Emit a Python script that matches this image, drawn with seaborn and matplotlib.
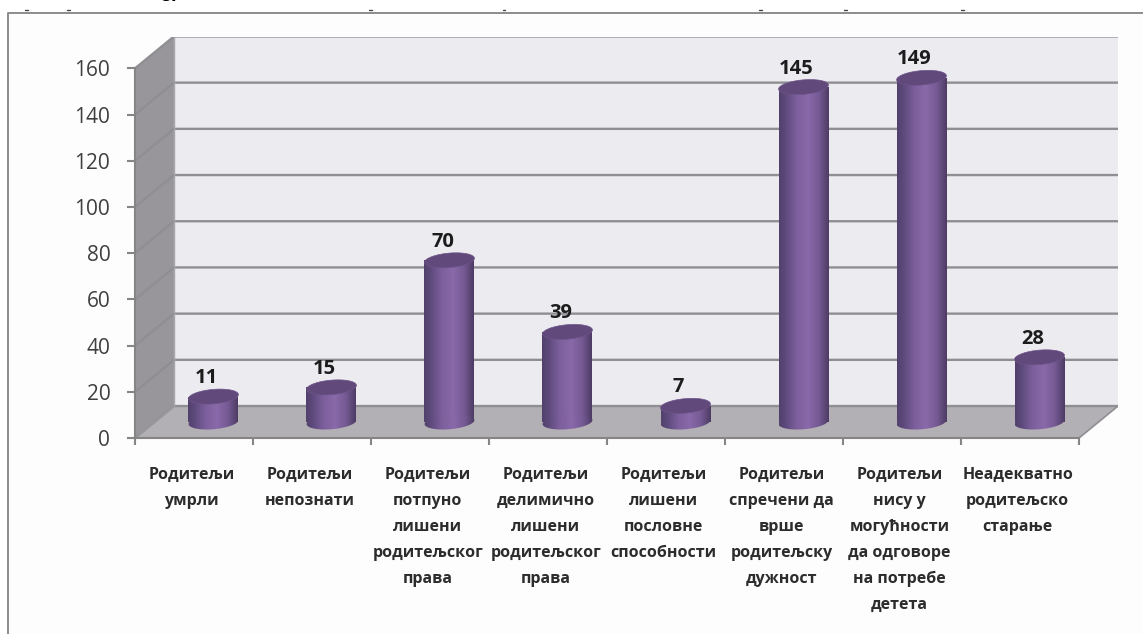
import numpy as np
import pandas as pd
import seaborn as sns
import matplotlib
matplotlib.use("Agg")
import matplotlib.pyplot as plt
from matplotlib.colors import LinearSegmentedColormap
from matplotlib.lines import Line2D
from matplotlib.patches import Polygon, Rectangle

categories = [
    "Родитељи\nумрли",
    "Родитељи\nнепознати",
    "Родитељи\nпотпуно\nлишени\nродитељског\nправа",
    "Родитељи\nделимично\nлишени\nродитељског\nправа",
    "Родитељи\nлишени\nпословне\nспособности",
    "Родитељи\nспречени да\nврше\nродитељску\nдужност",
    "Родитељи\nнису у\nмогућности\nда одговоре\nна потребе\nдетета",
    "Неадекватно\nродитељско\nстарање",
]
values = [11, 15, 70, 39, 7, 145, 149, 28]
y_ticks = [0, 20, 40, 60, 80, 100, 120, 140, 160]
speck_px = [26, 68, 370, 504, 760, 845, 962]

W, H = 1143, 634
L, R, B, T = 135, 1118, 438, 37
X0, X1 = -0.665, 7.665
Y0, Y1 = 0, 173.6
DX, DY = 0.33, 13.84
BASE = DY / 2
px_x = (R - L) / (X1 - X0)
px_y = (B - T) / (Y1 - Y0)

sns.set_theme(style="white", rc={"font.family": ["Open Sans", "DejaVu Sans"]})
fig = plt.figure(figsize=(W / 100, H / 100), dpi=100, facecolor="white")
fig.add_artist(Rectangle((8 / W, 0), (W - 8) / W, 1 - 13 / H, transform=fig.transFigure,
                         facecolor="#fdfdfd", edgecolor="none", zorder=-2))
ax = fig.add_axes([L / W, 1 - B / H, (R - L) / W, (B - T) / H])
ax.patch.set_alpha(0)

df = pd.DataFrame({"category": categories, "value": values})
sns.barplot(data=df, x="category", y="value", color="#7a5c98", width=50 / px_x, bottom=BASE,
            saturation=1, errorbar=None, ax=ax, zorder=5)
bars = list(ax.patches)

xf0, xf1 = X0, X0 + 8
top = y_ticks[-1]
ax.add_patch(Polygon([(xf0, 0), (xf0, top), (xf0 + DX, top + DY), (xf0 + DX, DY)], facecolor="#98969b",
                     edgecolor="none", zorder=1))
ax.add_patch(Polygon([(xf0 + DX, DY), (xf0 + DX, top + DY), (xf1 + DX, top + DY), (xf1 + DX, DY)],
                     facecolor="#ecebf0", edgecolor="none", zorder=1))
ax.add_patch(Polygon([(xf0, 0), (xf0 + DX, DY), (xf1 + DX, DY), (xf1, 0)], facecolor="#b2b0b5",
                     edgecolor="none", zorder=2))
for v in y_ticks:
    ax.plot([xf0, xf0 + DX, xf1 + DX], [v, v + DY, v + DY], color="#8f8f93", lw=1.7, zorder=3,
            solid_capstyle="butt")
ax.plot([xf0 + DX, xf0 + DX], [DY, top + DY], color="#a6a5a9", lw=1, zorder=3)
ax.plot([xf0, xf0 + DX], [0, DY], color="#9a999d", lw=1, zorder=3)
ax.plot([xf1, xf1 + DX], [0, DY], color="#8f8f93", lw=1.2, zorder=3)

grad = LinearSegmentedColormap.from_list("cyl", [(0, "#51406b"), (0.13, "#5e4a7c"), (0.35, "#7c5f9c"),
                                                  (0.58, "#8a69aa"), (0.8, "#755a94"), (1, "#4d3b64")])
g = np.linspace(0, 1, 128).reshape(1, -1)


def ellipse(cx, cy, a=25.0, b=7.2, tilt=np.radians(5)):
    t = np.linspace(0, 2 * np.pi, 90)
    xp = a * np.cos(t) * np.cos(tilt) - b * np.sin(t) * np.sin(tilt)
    yp = a * np.cos(t) * np.sin(tilt) + b * np.sin(t) * np.cos(tilt)
    return np.column_stack([cx + xp / px_x, cy + yp / px_y])


for i, (bar, v) in enumerate(zip(bars, values)):
    x0 = bar.get_x()
    x1 = x0 + bar.get_width()
    yb = BASE
    yt = BASE + v
    cx = (x0 + x1) / 2
    ext = [x0, x1, yb - 12, yt + 6]
    bar.set_edgecolor("none")
    base = Polygon(ellipse(cx, yb), closed=True, facecolor="none", edgecolor="none")
    ax.add_patch(base)
    for clip in (bar, base):
        im = ax.imshow(g, extent=ext, cmap=grad, aspect="auto", zorder=6, interpolation="bilinear")
        im.set_clip_path(clip)
    ax.add_patch(Polygon(ellipse(cx, yt), closed=True, facecolor="#62497c", edgecolor="#6d5488", lw=0.5, zorder=7))
    ax.text(cx - 7 / px_x, yt + 18.5 / px_y, str(v), ha="center", va="center", fontsize=14.5,
            color="#1c1c1c", fontweight="bold", family=["Open Sans"], zorder=8)

ax.set_xlim(X0, X1)
ax.set_ylim(Y0, Y1)
for s in ("top", "right"):
    ax.spines[s].set_visible(False)
for s in ("left", "bottom"):
    ax.spines[s].set_color("#858585")
    ax.spines[s].set_linewidth(1.5)
    ax.spines[s].set_zorder(4)
ax.spines["left"].set_bounds(0, top)
ax.spines["bottom"].set_bounds(xf0, xf1)
ax.set_xlabel("")
ax.set_ylabel("")
ax.set_yticks(y_ticks)
ax.set_yticklabels([str(v) for v in y_ticks], fontsize=15, color="#3f3f3f")
ax.tick_params(axis="y", length=5.8, width=1.5, color="#858585", left=True, pad=12)
ax.set_xticks([xf0 + k for k in range(9)])
ax.set_xticklabels([""] * 9)
ax.tick_params(axis="x", which="major", length=5, width=1.5, color="#858585", bottom=True)
ax.set_xticks([k + xf0 + 0.48 for k in range(8)], minor=True)
ax.set_xticklabels(categories, minor=True, fontsize=11.5, fontweight="bold", color="#2c2c2c",
                   linespacing=1.82, ha="center", va="top")
ax.tick_params(axis="x", which="minor", length=0, pad=21, bottom=True)

fig.add_artist(Line2D([8 / W, 8 / W, 1], [0, 1 - 13 / H, 1 - 13 / H], color="#8c8c8c", lw=1.4,
                      transform=fig.transFigure))
for sx in speck_px:
    fig.add_artist(Line2D([(sx - 1.5) / W, (sx + 1.5) / W], [1 - 9.5 / H] * 2, color="#444444", lw=1,
                          transform=fig.transFigure))
fig.text(168 / W, 1 + 12 / H, "б.", fontsize=14, fontweight="bold", family=["Liberation Sans"],
         color="black", ha="center", va="top")
fig.savefig("out.png", dpi=100)
